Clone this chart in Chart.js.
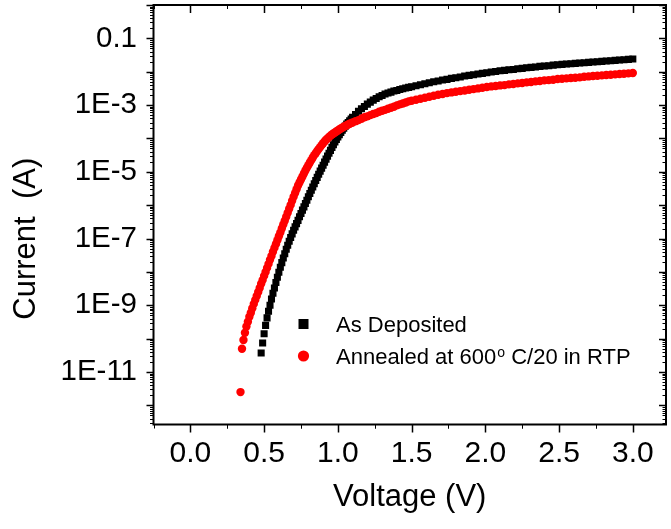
<!DOCTYPE html>
<html>
<head>
<meta charset="utf-8">
<script src="https://cdn.jsdelivr.net/npm/chart.js@4.4.1/dist/chart.umd.min.js"></script>
<style>
    html, body { margin: 0; padding: 0; background: #ffffff; }
</style>
</head>
<body>
<canvas id="chartIV" width="671" height="529"></canvas>
<script>
// As Deposited (V, A)
var voltDep = [
    0.48,0.49,0.50,0.51,0.52,0.53,0.54,0.55,0.56,0.57,
    0.58,0.59,0.60,0.61,0.62,0.63,0.64,0.65,0.66,0.67,
    0.68,0.69,0.70,0.71,0.72,0.73,0.74,0.75,0.76,0.77,
    0.78,0.79,0.80,0.81,0.82,0.83,0.84,0.85,0.86,0.87,
    0.88,0.89,0.90,0.91,0.92,0.93,0.94,0.95,0.96,0.97,
    0.98,0.99,1.00,1.01,1.02,1.03,1.04,1.05,1.06,1.07,
    1.08,1.09,1.10,
    1.12,1.14,1.16,1.18,1.20,1.22,1.24,1.26,1.28,1.30,
    1.32,1.34,1.36,1.38,1.40,1.42,1.44,1.46,1.48,1.50,
    1.53,1.56,1.59,1.62,1.65,1.68,1.71,1.74,1.77,1.80,
    1.83,1.86,1.89,1.92,1.95,1.98,2.01,2.04,2.07,2.10,
    2.13,2.16,2.19,2.22,2.25,2.28,2.31,2.34,2.37,2.40,
    2.43,2.46,2.49,2.52,2.55,2.58,2.61,2.64,2.67,2.70,
    2.73,2.76,2.79,2.82,2.85,2.88,2.91,2.94,2.97,3.00
];
var currDep = [
    3.7e-11,7.4e-11,1.4e-10,2.5e-10,4.2e-10,6.6e-10,1.0e-9,1.55e-9,2.3e-9,3.3e-9,
    4.8e-9,6.9e-9,9.8e-9,1.38e-8,1.9e-8,2.6e-8,3.5e-8,4.8e-8,6.3e-8,8.3e-8,
    1.07e-7,1.38e-7,1.78e-7,2.24e-7,2.8e-7,3.5e-7,4.5e-7,5.6e-7,7.1e-7,8.9e-7,
    1.12e-6,1.41e-6,1.78e-6,2.24e-6,2.8e-6,3.5e-6,4.4e-6,5.5e-6,6.8e-6,8.5e-6,
    1.05e-5,1.29e-5,1.58e-5,1.95e-5,2.4e-5,2.95e-5,3.6e-5,4.4e-5,5.4e-5,6.5e-5,
    7.8e-5,9.3e-5,1.10e-4,1.29e-4,1.51e-4,1.78e-4,2.04e-4,2.34e-4,2.7e-4,3.0e-4,
    3.4e-4,3.8e-4,4.3e-4,
    5.2e-4,6.5e-4,7.8e-4,9.1e-4,1.07e-3,1.23e-3,1.41e-3,1.58e-3,1.78e-3,1.95e-3,
    2.14e-3,2.29e-3,2.45e-3,2.63e-3,2.75e-3,2.95e-3,3.09e-3,3.24e-3,3.39e-3,3.55e-3,
    3.80e-3,4.07e-3,4.37e-3,4.68e-3,5.01e-3,5.25e-3,5.62e-3,5.89e-3,6.31e-3,6.61e-3,
    6.92e-3,7.41e-3,7.76e-3,8.13e-3,8.51e-3,8.91e-3,9.33e-3,9.77e-3,1.02e-2,1.07e-2,
    1.10e-2,1.15e-2,1.17e-2,1.23e-2,1.26e-2,1.32e-2,1.35e-2,1.38e-2,1.45e-2,1.48e-2,
    1.51e-2,1.58e-2,1.62e-2,1.66e-2,1.70e-2,1.74e-2,1.78e-2,1.82e-2,1.86e-2,1.91e-2,
    1.95e-2,2.00e-2,2.04e-2,2.09e-2,2.14e-2,2.19e-2,2.24e-2,2.29e-2,2.34e-2,2.40e-2
];

// Annealed at 600 C/20 in RTP (V, A)
var voltAnn = [
    0.34,0.35,0.36,0.37,0.38,0.39,0.40,0.41,0.42,0.43,
    0.44,0.45,0.46,0.47,0.48,0.49,0.50,0.51,0.52,0.53,
    0.54,0.55,0.56,0.57,0.58,0.59,0.60,0.61,0.62,0.63,
    0.64,0.65,0.66,0.67,0.68,0.69,0.70,0.71,0.72,0.73,
    0.74,0.75,0.76,0.77,0.78,0.79,0.80,0.81,0.82,0.83,
    0.84,0.85,0.86,0.87,0.88,0.89,0.90,0.91,0.92,0.93,
    0.94,0.95,0.96,0.97,0.98,0.99,1.00,1.01,1.02,1.03,
    1.04,1.05,1.06,1.07,1.08,1.09,1.10,
    1.12,1.14,1.16,1.18,1.20,1.22,1.24,1.26,1.28,1.30,
    1.32,1.34,1.36,1.38,1.40,1.42,1.44,1.46,1.48,1.50,
    1.53,1.56,1.59,1.62,1.65,1.68,1.71,1.74,1.77,1.80,
    1.83,1.86,1.89,1.92,1.95,1.98,2.01,2.04,2.07,2.10,
    2.13,2.16,2.19,2.22,2.25,2.28,2.31,2.34,2.37,2.40,
    2.43,2.46,2.49,2.52,2.55,2.58,2.61,2.64,2.67,2.70,
    2.73,2.76,2.79,2.82,2.85,2.88,2.91,2.94,2.97,3.00
];
var currAnn = [
    2.5e-12,5.0e-11,9.1e-11,1.5e-10,2.3e-10,3.2e-10,4.5e-10,6.0e-10,8.1e-10,1.1e-9,
    1.45e-9,1.9e-9,2.5e-9,3.3e-9,4.4e-9,5.75e-9,7.6e-9,1.0e-8,1.32e-8,1.74e-8,
    2.3e-8,3.0e-8,4.0e-8,5.25e-8,6.8e-8,8.9e-8,1.17e-7,1.51e-7,2.0e-7,2.63e-7,
    3.4e-7,4.5e-7,5.9e-7,7.8e-7,1.02e-6,1.35e-6,1.78e-6,2.3e-6,3.0e-6,3.9e-6,
    4.8e-6,5.9e-6,7.2e-6,8.9e-6,1.10e-5,1.32e-5,1.58e-5,1.91e-5,2.24e-5,2.7e-5,
    3.16e-5,3.6e-5,4.2e-5,4.8e-5,5.5e-5,6.3e-5,7.2e-5,8.1e-5,9.1e-5,1.0e-4,
    1.10e-4,1.20e-4,1.32e-4,1.41e-4,1.51e-4,1.62e-4,1.74e-4,1.86e-4,2.0e-4,2.09e-4,
    2.24e-4,2.34e-4,2.5e-4,2.63e-4,2.75e-4,2.88e-4,3.0e-4,
    3.3e-4,3.55e-4,3.9e-4,4.3e-4,4.6e-4,5.0e-4,5.4e-4,5.75e-4,6.3e-4,6.8e-4,
    7.2e-4,7.8e-4,8.3e-4,8.9e-4,9.8e-4,1.05e-3,1.12e-3,1.20e-3,1.29e-3,1.35e-3,
    1.45e-3,1.55e-3,1.66e-3,1.78e-3,1.91e-3,2.04e-3,2.14e-3,2.29e-3,2.40e-3,2.51e-3,
    2.63e-3,2.75e-3,2.88e-3,3.02e-3,3.16e-3,3.31e-3,3.47e-3,3.63e-3,3.72e-3,3.89e-3,
    3.98e-3,4.17e-3,4.27e-3,4.47e-3,4.57e-3,4.79e-3,4.90e-3,5.13e-3,5.25e-3,5.50e-3,
    5.62e-3,5.75e-3,6.03e-3,6.17e-3,6.31e-3,6.46e-3,6.61e-3,6.76e-3,7.08e-3,7.24e-3,
    7.41e-3,7.59e-3,7.76e-3,7.94e-3,8.13e-3,8.32e-3,8.51e-3,8.71e-3,8.91e-3,9.12e-3
];

var seriesLabels = ['As Deposited', 'Annealed at 600^o C/20 in RTP'];
var xTicks       = [0.0, 0.5, 1.0, 1.5, 2.0, 2.5, 3.0];
var yTicks       = [1e-1, 1e-3, 1e-5, 1e-7, 1e-9, 1e-11];
var yTickLabels  = ['0.1', '1E-3', '1E-5', '1E-7', '1E-9', '1E-11'];
var xTitle       = 'Voltage (V)';
var yTitle       = 'Current  (A)';

var fontFam = '"Liberation Sans", Arial, sans-serif';

function toPoints(xs, ys) {
    return xs.map(function (v, i) { return { x: v, y: ys[i] }; });
}

// frame box + tick marks (out on left/bottom, in on top/right)
var frameTicks = {
    id: 'frameTicks',
    afterDraw: function (chart) {
        var ctx = chart.ctx, a = chart.chartArea;
        var xs = chart.scales.x, ys = chart.scales.y;
        ctx.save();
        ctx.strokeStyle = '#000000';

        function xMark(v, len, w) {
            var px = Math.round(xs.getPixelForValue(v)) + 0.5;
            if (px < a.left - 1 || px > a.right + 1) return;
            ctx.lineWidth = w;
            ctx.beginPath();
            ctx.moveTo(px, a.bottom); ctx.lineTo(px, a.bottom + len);
            ctx.moveTo(px, a.top);    ctx.lineTo(px, a.top + len);
            ctx.stroke();
        }
        function yMark(v, len, w) {
            var py = Math.round(ys.getPixelForValue(v)) + 0.5;
            if (py < a.top - 1 || py > a.bottom + 1) return;
            ctx.lineWidth = w;
            ctx.beginPath();
            ctx.moveTo(a.left, py);  ctx.lineTo(a.left - len, py);
            ctx.moveTo(a.right, py); ctx.lineTo(a.right - len, py);
            ctx.stroke();
        }

        xTicks.forEach(function (v) {
            xMark(v, 8, 1.5);
            xMark(v - 0.25, 4, 1);
            xMark(v + 0.25, 4, 1);
        });

        var eLo = Math.floor(Math.log10(ys.min)), eHi = Math.ceil(Math.log10(ys.max));
        for (var e = eLo; e <= eHi; e++) {
            yMark(Math.pow(10, e), 7, 1.5);
            for (var m = 2; m <= 9; m++) yMark(m * Math.pow(10, e), 3.5, 1);
        }

        ctx.lineWidth = 2;
        ctx.strokeRect(a.left, a.top, a.right - a.left, a.bottom - a.top);

        // y title sits a bit below the axis middle, as in the original
        ctx.translate(26, (a.top + a.bottom) / 2 + 24);
        ctx.rotate(-Math.PI / 2);
        ctx.fillStyle = '#000000';
        ctx.textAlign = 'center';
        ctx.textBaseline = 'middle';
        ctx.font = '31px ' + fontFam;
        ctx.fillText(yTitle, 0, 0);
        ctx.restore();
    }
};

// legend drawn inside the plot, with superscript "o"
var innerLegend = {
    id: 'innerLegend',
    afterDraw: function (chart) {
        var ctx = chart.ctx, a = chart.chartArea;
        var mx = a.left + 150, tx = a.left + 182.5, y0 = a.top + 319, gap = 32;
        ctx.save();
        chart.data.datasets.forEach(function (ds, i) {
            var y = y0 + i * gap;
            ctx.fillStyle = ds.backgroundColor;
            if (ds.pointStyle === 'rect') {
                ctx.fillRect(mx - 5, y - 5, 10, 10);
            } else {
                ctx.beginPath();
                ctx.arc(mx, y, 5.6, 0, Math.PI * 2);
                ctx.fill();
            }
            ctx.fillStyle = '#000000';
            ctx.textBaseline = 'alphabetic';
            ctx.textAlign = 'left';
            var parts = ds.label.split('^o');
            var x = tx;
            ctx.font = '22px ' + fontFam;
            ctx.fillText(parts[0], x, y + 7.5);
            x += ctx.measureText(parts[0]).width;
            if (parts.length > 1) {
                ctx.font = '14px ' + fontFam;
                ctx.fillText('o', x + 1, y + 1);
                x += ctx.measureText('o').width + 1;
                ctx.font = '22px ' + fontFam;
                ctx.fillText(parts[1], x, y + 7.5);
            }
        });
        ctx.restore();
    }
};

var ivChart = new Chart(document.getElementById('chartIV').getContext('2d'), {
    type: 'scatter',
    data: {
        datasets: [{
            label           : seriesLabels[0],
            data            : toPoints(voltDep, currDep),
            pointStyle      : 'rect',
            pointRadius     : 5,
            pointHoverRadius: 5,
            pointBorderWidth: 0,
            backgroundColor : '#000000',
            borderColor     : '#000000',
            order           : 1
        }, {
            label           : seriesLabels[1],
            data            : toPoints(voltAnn, currAnn),
            pointStyle      : 'circle',
            pointRadius     : 4.2,
            pointHoverRadius: 4.2,
            pointBorderWidth: 0,
            backgroundColor : '#ff0000',
            borderColor     : '#ff0000',
            order           : 0
        }]
    },
    options: {
        responsive: false,
        animation: false,
        devicePixelRatio: 1,
        layout: { padding: { top: 5, right: 3.5, left: 0, bottom: 0 } },
        plugins: {
            legend : { display: false },
            tooltip: { enabled: false }
        },
        scales: {
            x: {
                type: 'linear',
                min: -0.25,
                max: 3.225,
                afterBuildTicks: function (s) { s.ticks = xTicks.map(function (v) { return { value: v }; }); },
                afterFit: function (s) {
                    s.height = 104.5;
                    s.paddingLeft = 0; s.paddingRight = 0;
                },
                grid  : { display: false, drawTicks: false },
                border: { display: false },
                ticks : {
                    padding: 11,
                    color: '#000000',
                    autoSkip: false,
                    maxRotation: 0,
                    font: { family: fontFam, size: 30 },
                    callback: function (v) { return Number(v).toFixed(1); }
                },
                title: {
                    display: true,
                    text: xTitle,
                    color: '#000000',
                    font: { family: fontFam, size: 31 },
                    padding: { top: 0, bottom: 13 }
                }
            },
            y: {
                type: 'logarithmic',
                min: 2.67e-13,
                max: 1,
                afterBuildTicks: function (s) { s.ticks = yTicks.map(function (v) { return { value: v }; }); },
                afterFit: function (s) {
                    s.width = 153.5;
                    s.paddingTop = 0; s.paddingBottom = 0;
                },
                grid  : { display: false, drawTicks: false },
                border: { display: false },
                ticks : {
                    padding: 16.5,
                    color: '#000000',
                    autoSkip: false,
                    font: { family: fontFam, size: 29.5 },
                    callback: function (v, i) { return yTickLabels[i]; }
                },
                title: { display: false, text: yTitle }
            }
        }
    },
    plugins: [frameTicks, innerLegend]
});
</script>
</body>
</html>
